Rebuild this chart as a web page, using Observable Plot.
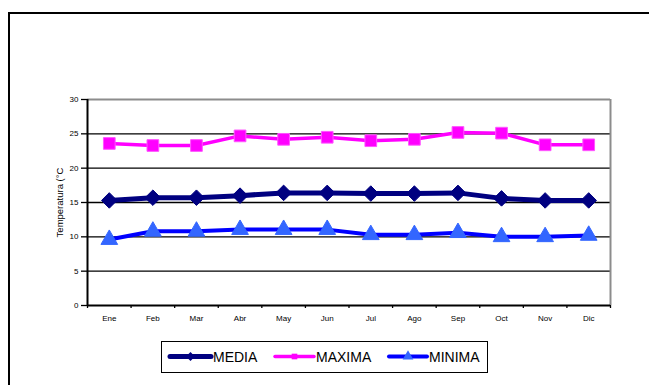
<!DOCTYPE html>
<html>
<head>
<meta charset="utf-8">
<script src="https://cdn.jsdelivr.net/npm/d3@7"></script>
<script src="https://cdn.jsdelivr.net/npm/@observablehq/plot@0.6"></script>
<style>
  html, body { margin: 0; padding: 0; background: #fff; }
  #page { position: relative; width: 649px; height: 385px; overflow: hidden; font-family: "Liberation Sans", Arial, sans-serif; }
  #frame { position: absolute; left: 8px; top: 12px; right: -10px; bottom: -10px; border-left: 2.5px solid #000; border-top: 2.5px solid #000; }
  #chart { position: absolute; left: 0; top: 0; }
  #legend { position: absolute; left: 161px; top: 341px; width: 325px; height: 30px; border: 1.5px solid #000; background: #fff; }
  #legend svg { position: absolute; top: 0; left: 0; }
</style>
</head>
<body>
<div id="page">
  <div id="frame"></div>
  <div id="chart"></div>
  <div id="legend"></div>
</div>
<script>
// Monthly temperatures (°C)
const months = ["Ene", "Feb", "Mar", "Abr", "May", "Jun", "Jul", "Ago", "Sep", "Oct", "Nov", "Dic"];
const media  = [15.3, 15.7, 15.7, 16.0, 16.4, 16.4, 16.3, 16.3, 16.4, 15.6, 15.3, 15.3];
const maxima = [23.6, 23.3, 23.3, 24.7, 24.2, 24.5, 24.0, 24.2, 25.2, 25.1, 23.4, 23.4];
const minima = [9.6, 10.8, 10.8, 11.05, 11.05, 11.05, 10.3, 10.3, 10.6, 10.0, 10.0, 10.2];
const yTicks = [0, 5, 10, 15, 20, 25, 30];
const seriesNames = ["MEDIA", "MAXIMA", "MINIMA"];

const seriesStyle = {
  MEDIA:  { line: "#000080", lineWidth: 5,   symbol: "diamond2", fill: "#000080", stroke: "#000080", r: 7.0 },
  MAXIMA: { line: "#ff00ff", lineWidth: 3.5, symbol: "square",   fill: "#ff00ff", stroke: "#ff55ff", r: 6.6 },
  MINIMA: { line: "#0000ff", lineWidth: 4,   symbol: "triangle", fill: "#3366ff", stroke: "#3366ff", r: 6.2 }
};

const values = { MEDIA: media, MAXIMA: maxima, MINIMA: minima };
const rows = seriesNames.flatMap(s => months.map((m, i) => ({ serie: s, mes: m, pos: i + 0.5, temp: values[s][i] })));

// One line + its markers per series, drawn in series order
const seriesMarks = seriesNames.flatMap(s => {
  const st = seriesStyle[s];
  const data = rows.filter(d => d.serie === s);
  return [
    Plot.line(data, { x: "pos", y: "temp", stroke: st.line, strokeWidth: st.lineWidth, strokeLinejoin: "round" }),
    Plot.dot(data, { x: "pos", y: "temp", symbol: () => st.symbol, r: st.r, fill: st.fill, stroke: st.stroke, strokeWidth: 1 })
  ];
});

const chart = Plot.plot({
  width: 649,
  height: 330,
  marginTop: 99,
  marginBottom: 25,
  marginLeft: 87,
  marginRight: 39,
  x: { type: "linear", domain: [0, months.length] },
  y: { domain: [0, 30] },
  symbol: { type: "identity" },
  style: { fontFamily: "'Liberation Sans', Arial, sans-serif", fontSize: "8px", color: "#000", background: "transparent", overflow: "visible" },
  marks: [
    // gridlines
    Plot.ruleY(yTicks.filter(t => t > 0 && t < 30), { stroke: "#000", strokeWidth: 1.3 }),
    // plot-area border (top and right)
    Plot.ruleY([30], { stroke: "#8c8c8c", strokeWidth: 2 }),
    Plot.ruleX([months.length], { stroke: "#8c8c8c", strokeWidth: 2 }),
    // axes
    Plot.axisY({ ticks: yTicks, tickSize: 6, tickPadding: 3, label: null, strokeWidth: 1.3 }),
    Plot.axisX({ ticks: d3.range(months.length + 1), tickFormat: () => "", tickSize: 3, label: null, strokeWidth: 1.3 }),
    Plot.axisX({ ticks: months.map((m, i) => i + 0.5), tickFormat: d => months[Math.floor(d)], tickSize: 0, tickPadding: 10, label: null }),
    Plot.ruleY([0], { stroke: "#000", strokeWidth: 2 }),
    Plot.ruleX([0], { stroke: "#000", strokeWidth: 2 }),
    Plot.text(["Temperatura (°C"], { frameAnchor: "left", textAnchor: "middle", rotate: -90, dx: -28, fontSize: 9.5 }),
    ...seriesMarks
  ]
});
document.getElementById("chart").appendChild(chart);

// Legend: line swatch with centred marker, then series name
const legendItems = [
  { name: "MEDIA",  x0: 8,   x1: 49,  size: 50 },
  { name: "MAXIMA", x0: 113, x1: 152, size: 32 },
  { name: "MINIMA", x0: 227, x1: 265, size: 50 }
];
const symbolOf = { diamond2: d3.symbolDiamond2, square: d3.symbolSquare, triangle: d3.symbolTriangle };
const lsvg = d3.select("#legend").append("svg").attr("width", 325).attr("height", 30);
legendItems.forEach(it => {
  const st = seriesStyle[it.name];
  const cy = 14.5;
  lsvg.append("line")
    .attr("x1", it.x0).attr("x2", it.x1).attr("y1", cy).attr("y2", cy)
    .attr("stroke", st.line).attr("stroke-width", st.lineWidth).attr("stroke-linecap", "round");
  lsvg.append("path")
    .attr("d", d3.symbol(symbolOf[st.symbol], it.size)())
    .attr("transform", `translate(${(it.x0 + it.x1) / 2},${cy})`)
    .attr("fill", st.fill);
  lsvg.append("text")
    .attr("x", it.x1 + 2).attr("y", cy + 5)
    .attr("font-size", 14).attr("font-family", "'Liberation Sans', Arial, sans-serif")
    .attr("fill", "#000")
    .text(it.name);
});
</script>
</body>
</html>
